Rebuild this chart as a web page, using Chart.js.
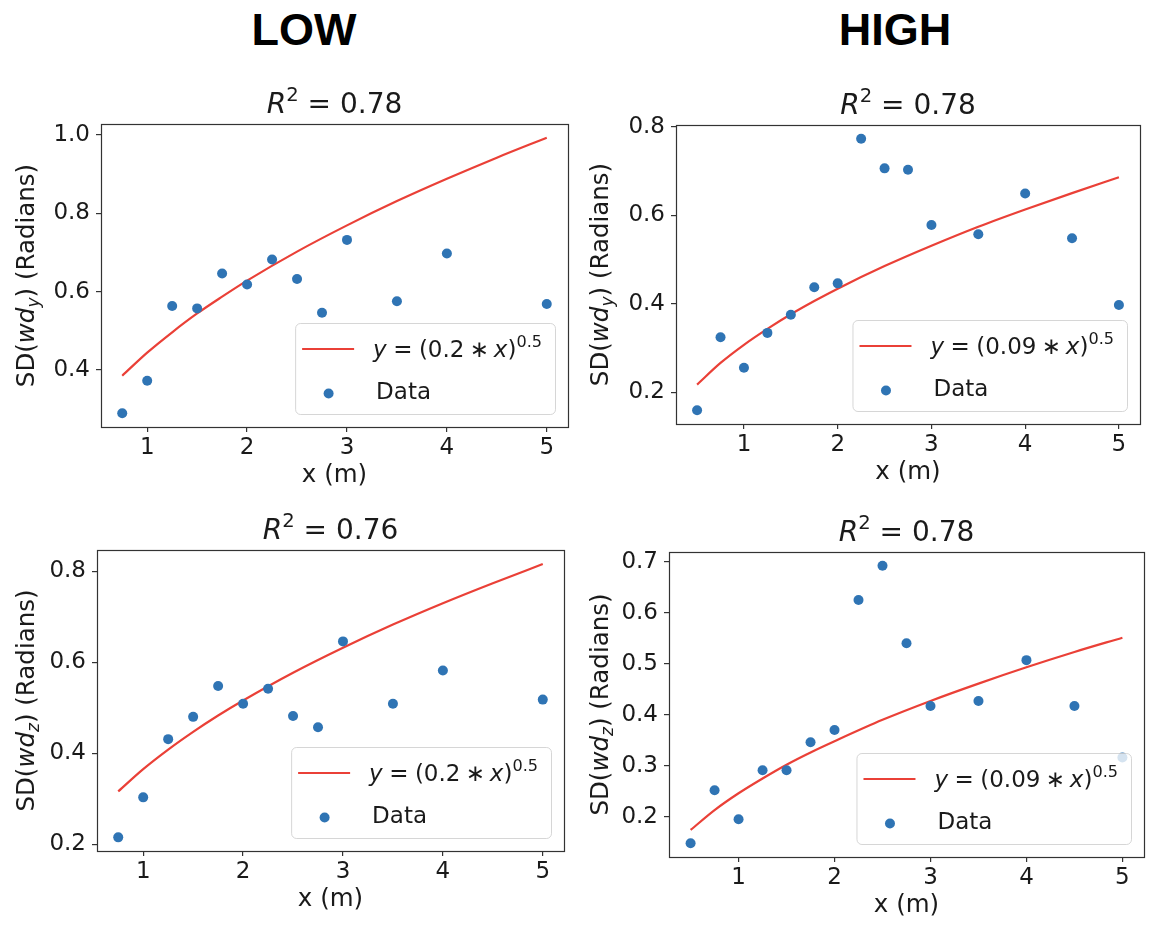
<!DOCTYPE html>
<html><head><meta charset="utf-8">
<script src="https://cdn.jsdelivr.net/npm/chart.js@4.4.0/dist/chart.umd.min.js"></script>
<style>
html,body{margin:0;padding:0;background:#fff;width:1157px;height:932px;overflow:hidden;position:relative}
canvas{position:absolute}
.hdr{position:absolute;top:7px;font:bold 45px "Liberation Sans",Arial,sans-serif;color:#000;line-height:45px;transform:translateX(-50%);white-space:nowrap}
</style></head><body>
<div class="hdr" style="left:304px">LOW</div>
<div class="hdr" style="left:895px">HIGH</div>
<canvas id="c0"></canvas><canvas id="c1"></canvas><canvas id="c2"></canvas><canvas id="c3"></canvas>
<script>
// ---------------- data ----------------
const xLow = [0.75, 1, 1.25, 1.5, 1.75, 2, 2.25, 2.5, 2.75, 3, 3.5, 4, 5];
const xHigh = [0.5, 0.75, 1, 1.25, 1.5, 1.75, 2, 2.25, 2.5, 2.75, 3, 3.5, 4, 4.5, 5];
const lowWdy  = [0.289, 0.372, 0.563, 0.557, 0.646, 0.618, 0.682, 0.632, 0.546, 0.732, 0.575, 0.697, 0.568];
const highWdy = [0.159, 0.324, 0.255, 0.334, 0.375, 0.437, 0.446, 0.773, 0.706, 0.703, 0.578, 0.557, 0.649, 0.548, 0.397];
const lowWdz  = [0.215, 0.303, 0.431, 0.480, 0.548, 0.509, 0.542, 0.482, 0.457, 0.646, 0.509, 0.582, 0.518];
const highWdz = [0.148, 0.252, 0.195, 0.291, 0.291, 0.346, 0.370, 0.625, 0.692, 0.540, 0.417, 0.427, 0.507, 0.417, 0.316];
// fitted curves
const fitXLow  = [0.75, 1, 1.25, 1.5, 1.75, 2, 2.5, 3, 3.5, 4, 4.5, 5];
const fitXHigh = [0.5, 0.75, 1, 1.25, 1.5, 1.75, 2, 2.5, 3, 3.5, 4, 4.5, 5];
const lowWdyFit  = [0.385, 0.444, 0.496, 0.544, 0.587, 0.628, 0.702, 0.769, 0.831, 0.888, 0.942, 0.993];
const lowWdzFit  = [0.316, 0.365, 0.408, 0.447, 0.483, 0.516, 0.577, 0.632, 0.683, 0.730, 0.774, 0.816];
const highWdyFit = [0.217, 0.266, 0.307, 0.343, 0.376, 0.406, 0.434, 0.485, 0.531, 0.574, 0.613, 0.650, 0.686];
const highWdzFit = [0.174, 0.213, 0.246, 0.275, 0.302, 0.326, 0.348, 0.390, 0.427, 0.461, 0.493, 0.523, 0.551];
// text
const r2Labels = ['0.78', '0.78', '0.76', '0.78'];
const fitCoefs = ['0.2', '0.09', '0.2', '0.09'];
const yLabelSubs = ['y', 'y', 'z', 'z'];
const dataLabel = 'Data';
const xLabel = 'x (m)';

// ---------------- layout / style ----------------
const FONT = '"DejaVu Sans", sans-serif';
const TXT = '#1a1a1a';
const BLUE = '#2f74b4';
const RED = '#ea4037';
const panels = [
  {L:101, T:124, R:568, B:427, x:[0.5375,5.2125], y:[0.254,1.028], step:0.2, yOff:67, xs:xLow,  ys:lowWdy,  fx:fitXLow,  fy:lowWdyFit},
  {L:676, T:125, R:1140, B:424, x:[0.275,5.225], y:[0.128,0.804], step:0.2, yOff:68, xs:xHigh, ys:highWdy, fx:fitXHigh, fy:highWdyFit},
  {L:97,  T:550, R:564, B:851, x:[0.5375,5.2125], y:[0.185,0.847], step:0.2, yOff:63, xs:xLow,  ys:lowWdz,  fx:fitXLow,  fy:lowWdzFit},
  {L:669, T:552, R:1144, B:857, x:[0.275,5.225], y:[0.121,0.719], step:0.1, yOff:61, xs:xHigh, ys:highWdz, fx:fitXHigh, fy:highWdzFit}
];
const YW = 60, XH = 40, PADL = 100, PADT = 50, PADR = 12, PADB = 70;

function drawRuns(ctx, runs, x, y, size, align) {
  let total = 0;
  const items = runs.map(r => {
    if (r.gap !== undefined) { const w = r.gap * size; total += w; return {w}; }
    const s = r.sc ? size * 0.7 : size;
    ctx.font = (r.it ? 'italic ' : '') + s + 'px ' + FONT;
    const w = ctx.measureText(r.t).width; total += w;
    return {r, s, w};
  });
  if (ctx._measureOnly) return total;
  let cx = align === 'center' ? x - total / 2 : (align === 'right' ? x - total : x);
  ctx.textAlign = 'left'; ctx.textBaseline = 'alphabetic';
  for (const it of items) {
    if (it.r) {
      ctx.font = (it.r.it ? 'italic ' : '') + it.s + 'px ' + FONT;
      const dy = it.r.sc === 'sup' ? -0.42 * size : (it.r.sc === 'sub' ? 0.2 * size : 0);
      ctx.fillText(it.r.t, cx, y + dy);
    }
    cx += it.w;
  }
  return total;
}
function measureRuns(ctx, runs, size) { ctx._measureOnly = true; const w = drawRuns(ctx, runs, 0, 0, size, 'left'); ctx._measureOnly = false; return w; }

function makePlugin(i) {
  return {
    id: 'decor' + i,
    afterDatasetsDraw(chart) {
      const ctx = chart.ctx, ca = chart.chartArea, p = panels[i];
      ctx.save();
      // frame
      ctx.strokeStyle = '#333'; ctx.lineWidth = 1.2;
      ctx.strokeRect(Math.round(ca.left) + 0.5, Math.round(ca.top) + 0.5, Math.round(ca.right - ca.left), Math.round(ca.bottom - ca.top));
      ctx.fillStyle = TXT;
      // title
      drawRuns(ctx, [{t:'R', it:true}, {t:'2', sc:'sup'}, {t:' = ' + r2Labels[i]}], (ca.left + ca.right) / 2, ca.top - 11, 28, 'center');
      // x label
      drawRuns(ctx, [{t:xLabel}], (ca.left + ca.right) / 2, ca.bottom + 55, 24.5, 'center');
      // y label
      ctx.save();
      ctx.translate(ca.left - p.yOff, (ca.top + ca.bottom) / 2);
      ctx.rotate(-Math.PI / 2);
      drawRuns(ctx, [{t:'SD('}, {t:'wd', it:true}, {t:yLabelSubs[i], it:true, sc:'sub'}, {t:')'}, {t:' (Radians)'}], 0, 0, 24.5, 'center');
      ctx.restore();
      // legend
      const lruns = [{t:'y', it:true}, {gap:0.28}, {t:'='}, {gap:0.28}, {t:'(' + fitCoefs[i]}, {gap:0.22}, {t:'\u2217'}, {gap:0.22}, {t:'x', it:true}, {t:')'}, {t:'0.5', sc:'sup'}];
      const tw = measureRuns(ctx, lruns, 23);
      const lw = 78 + tw + 13, lh = 91;
      const lx = ca.right - 13 - lw, ly = ca.bottom - 13 - lh;
      ctx.beginPath();
      ctx.roundRect(lx + 0.5, ly + 0.5, lw, lh, 5);
      ctx.fillStyle = 'rgba(255,255,255,0.8)'; ctx.fill();
      ctx.strokeStyle = 'rgba(204,204,204,0.8)'; ctx.lineWidth = 1; ctx.stroke();
      ctx.beginPath(); ctx.moveTo(lx + 7, ly + 26); ctx.lineTo(lx + 59, ly + 26);
      ctx.strokeStyle = RED; ctx.lineWidth = 2.2; ctx.stroke();
      ctx.fillStyle = TXT;
      drawRuns(ctx, lruns, lx + 78, ly + 34, 23, 'left');
      ctx.beginPath(); ctx.arc(lx + 33.5, ly + 70.5, 5, 0, Math.PI * 2); ctx.fillStyle = BLUE; ctx.fill();
      ctx.fillStyle = TXT;
      drawRuns(ctx, [{t:dataLabel}], lx + 81, ly + 76, 23, 'left');
      ctx.restore();
    }
  };
}

panels.forEach((p, i) => {
  const cv = document.getElementById('c' + i);
  const w = (p.R - p.L) + PADL + PADR, h = (p.B - p.T) + PADT + PADB;
  cv.width = w; cv.height = h;
  cv.style.left = (p.L - PADL) + 'px'; cv.style.top = (p.T - PADT) + 'px';
  cv.style.width = w + 'px'; cv.style.height = h + 'px';
  new Chart(cv, {
    data: {
      datasets: [
        {type:'scatter', data: p.xs.map((x, k) => ({x, y: p.ys[k]})), pointRadius:5, pointHoverRadius:5, backgroundColor:BLUE, borderWidth:0},
        {type:'line', data: p.fx.map((x, k) => ({x, y: p.fy[k]})), borderColor:RED, borderWidth:2.2, pointRadius:0, fill:false, cubicInterpolationMode:'monotone'}
      ]
    },
    options: {
      responsive:false, animation:false, devicePixelRatio:1,
      layout:{padding:{left:PADL - YW, top:PADT, right:PADR, bottom:PADB - XH}},
      plugins:{legend:{display:false}, tooltip:{enabled:false}},
      scales:{
        x:{type:'linear', position:'bottom', min:p.x[0], max:p.x[1],
           ticks:{stepSize:1, includeBounds:false, padding:5, color:TXT, font:{family:FONT, size:23, lineHeight:1}, maxRotation:0, autoSkip:false, callback:v => String(v)},
           grid:{drawOnChartArea:false, drawTicks:true, tickLength:5, color:'#333', lineWidth:1.2}, border:{display:false},
           afterFit(s){ s.height = XH; }},
        y:{type:'linear', position:'left', min:p.y[0], max:p.y[1],
           ticks:{stepSize:p.step, includeBounds:false, padding:6, color:TXT, font:{family:FONT, size:23}, autoSkip:false, callback:v => v.toFixed(1)},
           grid:{drawOnChartArea:false, drawTicks:true, tickLength:5, color:'#333', lineWidth:1.2}, border:{display:false},
           afterFit(s){ s.width = YW; }}
      }
    },
    plugins:[makePlugin(i)]
  });
});
</script>
</body></html>
